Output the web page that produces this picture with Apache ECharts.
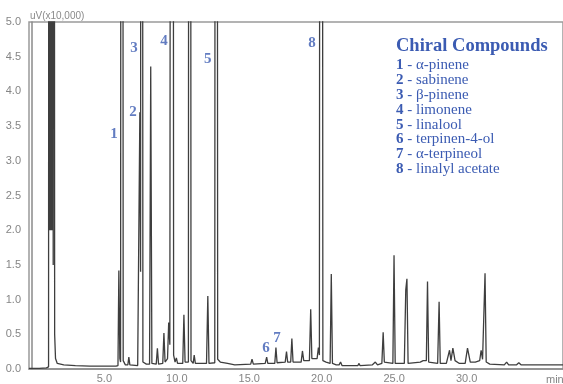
<!DOCTYPE html>
<html>
<head>
<meta charset="utf-8">
<script src="https://cdn.jsdelivr.net/npm/echarts@6/dist/echarts.min.js"></script>
<style>html,body{margin:0;padding:0;background:#fff;}#c{width:563px;height:384px;}</style>
</head>
<body>
<div id="c"></div>
<script>
// Chromatogram trace: [retention time (min), signal (uV x10,000)]; off-scale peaks run above 5.0
const trace = [
  [-0.2,0.01],[0.5,0.01],[1.0,0.015],[1.15,0.03],
  [1.19,30],[1.23,2],[1.27,30],[1.31,2],[1.35,30],[1.39,2],[1.43,30],[1.47,1.5],[1.51,30],
  [1.57,0.5],[1.63,0.15],[1.75,0.08],
  [2.2,0.06],[3.0,0.05],[4.0,0.04],[5.0,0.04],[5.8,0.04],
  [5.94,0.05],[6.0,1.42],[6.07,0.15],[6.12,0.1],[6.21,40],[6.3,0.12],[6.45,0.06],
  [6.62,0.06],[6.69,0.17],[6.76,0.06],[7.3,0.05],
  [7.38,0.06],[7.45,3.7],[7.5,1.4],[7.56,40],[7.66,0.1],[7.9,0.07],
  [8.12,0.07],[8.2,4.36],[8.28,0.08],[8.58,0.07],[8.66,0.30],[8.74,0.07],
  [9.03,0.08],[9.11,0.52],[9.19,0.1],[9.36,0.15],[9.44,0.67],[9.52,0.35],
  [9.58,0.35],[9.68,40],[9.78,0.2],[9.88,0.1],[9.97,0.16],[10.05,0.08],
  [10.41,0.08],[10.49,0.78],[10.57,0.1],[10.8,0.1],[10.88,40],[10.98,0.12],
  [11.13,0.08],[11.2,0.2],[11.28,0.08],[12.05,0.08],[12.14,1.05],[12.22,0.08],
  [12.62,0.09],[12.71,40],[12.82,0.14],[13.0,0.1],[13.5,0.08],[14.0,0.06],
  [15.1,0.07],[15.19,0.14],[15.28,0.07],[16.1,0.08],[16.2,0.17],[16.28,0.08],
  [16.76,0.08],[16.84,0.31],[16.92,0.09],[17.48,0.1],[17.57,0.25],[17.65,0.1],
  [17.86,0.1],[17.94,0.44],[18.02,0.1],[18.58,0.1],[18.67,0.26],[18.76,0.12],
  [19.15,0.12],[19.24,0.86],[19.32,0.15],[19.68,0.15],[19.77,0.31],[19.84,0.2],
  [19.95,40],[20.08,0.12],[20.3,0.1],[20.58,0.08],[20.66,1.37],[20.74,0.08],
  [21.0,0.06],[21.2,0.06],[21.3,0.1],[21.4,0.05],[22.0,0.05],[22.5,0.05],[22.56,0.08],[22.65,0.05],
  [23.5,0.06],[23.7,0.1],[23.85,0.06],[24.15,0.08],[24.24,0.53],[24.32,0.1],
  [24.45,0.08],[24.91,0.08],[24.99,1.64],[25.07,0.08],[25.7,0.08],[25.8,1.14],
  [25.88,1.30],[25.96,0.08],[26.8,0.1],[27.0,0.12],[27.22,0.12],[27.3,1.26],
  [27.38,0.1],[28.0,0.08],[28.1,0.97],[28.18,0.08],[28.6,0.08],[28.82,0.27],
  [28.92,0.12],[29.05,0.3],[29.2,0.12],[29.5,0.08],[29.9,0.08],[30.06,0.3],
  [30.25,0.1],[30.6,0.1],[30.9,0.12],[31.0,0.27],[31.1,0.14],[31.18,0.15],
  [31.27,1.38],[31.35,0.1],[31.6,0.07],[32.6,0.06],[32.76,0.1],[32.9,0.06],
  [33.45,0.06],[33.6,0.09],[33.75,0.06],[34.5,0.06],[34.6,0.08],[34.7,0.06],
  [35.4,0.06],[35.5,0.08],[35.6,0.06],[36.7,0.06]
];
// Peak number annotations: [time, signal, label]
const peakLabels = [
  [5.66,3.38,'1'],[6.98,3.70,'2'],[7.05,4.63,'3'],[9.11,4.72,'4'],
  [12.14,4.46,'5'],[16.15,0.30,'6'],[16.91,0.44,'7'],[19.33,4.69,'8']
];
const compounds = ['α-pinene','sabinene','β-pinene','limonene','linalool',
  'terpinen-4-ol','α-terpineol','linalyl acetate'];
const xTicks = [5,10,15,20,25,30];
const yMin = 0, yMax = 5, yStep = 0.5;
const xMin = -0.2, xMax = 36.65;

const blue = '#3b5bb2';
const gray = '#8a8a8a';
const chart = echarts.init(document.getElementById('c'), null, {renderer:'canvas'});

const legendLines = compounds.map((n,i)=>'{n|'+(i+1)+'}{r| - '+n+'}').join('\n');

chart.setOption({
  animation:false,
  backgroundColor:'#fff',
  grid:{left:29, top:22, right:-2, bottom:13, show:true, borderColor:'#9a9a9a', borderWidth:1.5},
  xAxis:{
    type:'value', min:xMin, max:xMax,
    axisLine:{show:true, onZero:false, lineStyle:{color:gray, width:1.5}},
    axisTick:{show:false},
    splitLine:{show:false},
    axisLabel:{customValues:xTicks, formatter:v=>v.toFixed(1), color:'#858585',
      fontFamily:'Liberation Sans', fontSize:11, margin:4}
  },
  yAxis:{
    type:'value', min:yMin, max:yMax, interval:yStep,
    name:'uV(x10,000)', nameLocation:'end', nameGap:1,
    nameTextStyle:{align:'left', verticalAlign:'bottom', color:'#8a8a8a',
      fontFamily:'Liberation Sans', fontSize:10, padding:[0,0,0,-2]},
    axisLine:{show:true, lineStyle:{color:gray, width:1.5}},
    axisTick:{show:false},
    splitLine:{show:false},
    axisLabel:{formatter:v=>v.toFixed(1), color:'#858585',
      fontFamily:'Liberation Sans', fontSize:11, margin:8}
  },
  graphic:[
    {type:'text', left:546, top:374, style:{text:'min', fill:'#858585',
      font:'11px "Liberation Sans"'}},
    {type:'text', left:396, top:37, style:{text:'Chiral Compounds', fill:blue,
      font:'bold 18.5px "Liberation Serif"'}},
    {type:'text', left:396, top:58, style:{text:legendLines, fill:blue,
      rich:{
        n:{fontFamily:'Liberation Serif', fontWeight:'bold', fontSize:15, lineHeight:14.8, fill:blue},
        r:{fontFamily:'Liberation Serif', fontSize:15, lineHeight:14.8, fill:blue}
      }}}
  ],
  series:[
    {type:'line', data:trace, showSymbol:false, clip:true, sampling:null,
      lineStyle:{color:'#3e3e3e', width:1.3}, z:3},
    {type:'scatter', data:peakLabels, symbolSize:0, z:4,
      label:{show:true, position:'inside', formatter:p=>p.data[2], color:blue,
        fontFamily:'Liberation Serif', fontWeight:'bold', fontSize:15}}
  ]
});
</script>
</body>
</html>
